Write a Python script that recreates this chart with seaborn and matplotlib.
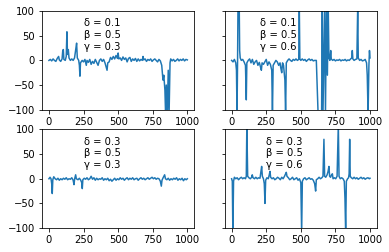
import matplotlib
matplotlib.use("Agg")
import matplotlib.pyplot as plt
import seaborn as sns
import pandas as pd

# Series A: delta=0.1, beta=0.5, gamma=0.3
a_x = [0, 10, 20, 30, 40, 50, 60, 70, 75, 85, 95, 100, 104, 108, 118, 125, 130, 134, 140, 145,
       155, 165, 175, 185, 195, 200, 205, 215, 220, 224, 228, 240, 250, 260, 270, 275, 285, 295,
       305, 315, 325, 335, 345, 355, 365, 375, 385, 395, 405, 420, 425, 435, 445, 455, 465, 475,
       485, 495, 500, 505, 515, 525, 535, 545, 555, 565, 575, 585, 595, 605, 615, 625, 635, 645,
       655, 665, 675, 680, 685, 695, 705, 715, 725, 735, 745, 755, 765, 775, 785, 795, 805, 815,
       824, 830, 838, 843, 848, 855, 862, 868, 875, 880, 890, 900, 910, 920, 930, 940, 950, 960,
       970, 980, 990, 1000]
a_y = [0, 2, -1, 3, 0, -2, 4, 8, 1, -2, 3, 20, 22, 2, 0, 8, 58, 12, 22, 5,
       0, 3, 0, 5, 25, 35, 5, 0, -10, -32, -5, 0, -3, 2, -10, 0, -4, 2,
       -8, -2, -6, 2, -4, -10, 0, 3, -2, 2, -5, -20, -5, -3, 6, 2, 8, 3,
       10, 4, 15, 3, 5, 0, 7, 2, 5, -3, 4, 6, -2, 3, 0, 4, -2, 3,
       -1, 2, 0, 8, 1, 3, -2, 2, 0, 3, -2, 1, 3, 0, -3, 2, -1, -10,
       -40, -30, -60, -110, -50, -110, -20, -110, -5, 3, -1, 2, -2, 0, 3, -1, 2, 0,
       3, -1, 2, 1]

# Series B: delta=0.1, beta=0.5, gamma=0.6
b_x = [0, 10, 20, 30, 35, 39, 43, 46, 50, 55, 58, 62, 70, 80, 90, 100, 106, 110, 120, 130,
       140, 150, 160, 170, 180, 190, 200, 210, 215, 220, 230, 240, 250, 260, 270, 280, 290, 295,
       300, 310, 320, 330, 340, 350, 355, 362, 368, 375, 385, 390, 395, 405, 415, 425, 435, 445,
       455, 465, 475, 485, 489, 493, 500, 510, 520, 530, 540, 550, 560, 570, 580, 590, 600, 612,
       625, 650, 655, 660, 672, 678, 685, 692, 698, 703, 710, 716, 720, 730, 740, 750, 760, 770,
       780, 790, 800, 810, 820, 830, 840, 850, 860, 868, 872, 876, 885, 895, 905, 911, 915, 925,
       935, 945, 955, 965, 975, 980, 986, 992, 996, 1000]
b_y = [0, -3, 2, -5, -20, -110, 0, 110, 120, 110, 20, 5, 0, 2, -3, -10, -80, -5, 0, 3,
       -5, 2, -8, -3, 0, -10, -4, -15, -20, -5, -8, -3, 2, -10, -3, -8, -20, -110,
       -10, -5, 0, -3, -10, -5, -15, -25, -5, -10, -40, -110, -5, 0, 3, 0, -2, 2,
       0, 3, 0, 2, 110, 3, 0, 3, 0, 2, -2, 1, 3, 0, 2, -1, 0, 0,
       -110, -110, 110, -110, 110, -110, 110, -30, 110, 5, 0, 20, 3, 0, 2, -1, 1, 0,
       2, -1, 1, 0, 2, -1, 1, 0, 3, 5, 20, 3, 0, 2, 3, 110, 5, 0,
       2, -1, 0, 2, -5, -30, -110, -10, 20, 5]

# Series C: delta=0.3, beta=0.5, gamma=0.3
c_x = [0, 8, 15, 20, 24, 28, 35, 45, 55, 65, 75, 85, 95, 105, 115, 125, 135, 145, 155, 165,
       175, 181, 186, 193, 198, 210, 220, 230, 237, 241, 245, 255, 265, 275, 285, 295, 305, 315,
       325, 335, 345, 355, 365, 375, 385, 395, 405, 415, 425, 435, 445, 455, 465, 475, 485, 495,
       505, 515, 525, 535, 545, 555, 565, 575, 585, 595, 605, 615, 625, 635, 645, 655, 665, 675,
       685, 695, 705, 715, 725, 735, 745, 755, 765, 775, 785, 795, 805, 812, 817, 825, 836, 842,
       852, 862, 872, 882, 892, 902, 912, 922, 932, 942, 952, 962, 972, 982, 992, 1000]
c_y = [0, 3, 0, -10, -30, -2, 4, 0, -2, 1, -3, 0, -2, 1, -1, 2, -2, 0, -1, 2,
       -3, -12, 0, 8, 0, -2, 1, -3, -8, -20, -2, 1, -1, 2, -2, 0, 5, -1,
       2, -3, 1, -2, 0, -1, 2, -3, 0, -2, 1, -4, -1, -5, -2, 1, -3, 0,
       -2, 2, -1, 1, -3, 0, 2, -2, 1, -1, 2, -2, 0, 1, -3, 0, 2, -1,
       1, -2, 0, 2, -1, 1, 3, 0, 2, -1, 1, 0, -5, -15, -3, 2, 8, 0,
       -2, 1, -3, 0, -2, 1, -1, 2, -3, 0, -2, 1, -4, 0, -2, 0]

# Series D: delta=0.3, beta=0.5, gamma=0.6
d_x = [0, 5, 9, 14, 20, 30, 40, 50, 60, 70, 80, 90, 100, 106, 110, 116, 125, 135, 145, 149,
       155, 165, 175, 185, 195, 205, 212, 217, 222, 230, 236, 241, 246, 255, 265, 272, 277, 282,
       292, 302, 312, 322, 332, 342, 352, 362, 372, 382, 390, 395, 400, 410, 420, 430, 440, 450,
       460, 470, 480, 490, 500, 506, 511, 520, 530, 540, 550, 560, 570, 580, 590, 600, 607, 612,
       622, 632, 642, 652, 660, 667, 672, 680, 690, 697, 703, 708, 715, 722, 728, 733, 742, 752,
       762, 771, 776, 785, 795, 805, 814, 819, 824, 829, 838, 845, 849, 853, 857, 865, 875, 885,
       895, 905, 915, 925, 935, 945, 955, 965, 975, 985, 995, 1000]
d_y = [0, -5, -110, -5, 3, 0, 2, -2, 1, 3, 0, 2, 0, 5, 110, 5, 2, 0, 3, 8,
       2, 0, 3, 0, 2, 1, 15, 25, 5, 0, -10, -50, -3, 2, 0, 8, 15, 3,
       0, 2, -2, 0, 3, 1, -2, 3, 0, 5, 10, 13, 5, 2, -2, 0, 3, -2,
       0, 2, -3, 0, -8, -110, -5, 0, 2, -2, 0, 2, -1, 0, -3, -10, -25, -2,
       0, 3, 0, 2, 5, 80, 5, 3, 8, 15, 25, 5, 3, 8, 10, 0, 2, 0,
       5, 110, 5, 0, 2, 0, -5, -40, -110, -5, 0, 2, 10, 80, 5, 2, 0, 3,
       0, 2, -1, 1, 3, 0, 2, -1, 1, 2, 0, 1]

labels = ["δ = 0.1\nβ = 0.5\nγ = 0.3",
          "δ = 0.1\nβ = 0.5\nγ = 0.6",
          "δ = 0.3\nβ = 0.5\nγ = 0.3",
          "δ = 0.3\nβ = 0.5\nγ = 0.6"]
label_x = [250, 205, 250, 250]

series = [(a_x, a_y), (b_x, b_y), (c_x, c_y), (d_x, d_y)]

fig, axes = plt.subplots(2, 2, figsize=(389 / 72, 252 / 72), dpi=72, sharey=True)
fig.subplots_adjust(left=0.108, right=0.969, bottom=0.095, top=0.956, wspace=0.2, hspace=0.2)

for ax, (xs, ys), lab, lx in zip(axes.flat, series, labels, label_x):
    df = pd.DataFrame({"t": xs, "v": ys})
    sns.lineplot(data=df, x="t", y="v", ax=ax, color="#1f77b4", linewidth=1.5)
    ax.set_ylim(-100, 100)
    ax.set_xticks([0, 250, 500, 750, 1000])
    ax.set_yticks([-100, -50, 0, 50, 100])
    ax.set_xlabel("")
    ax.set_ylabel("")
    ax.text(lx, 18, lab, va="bottom", ha="left", fontsize=10)

fig.savefig("out.png", dpi=72)
